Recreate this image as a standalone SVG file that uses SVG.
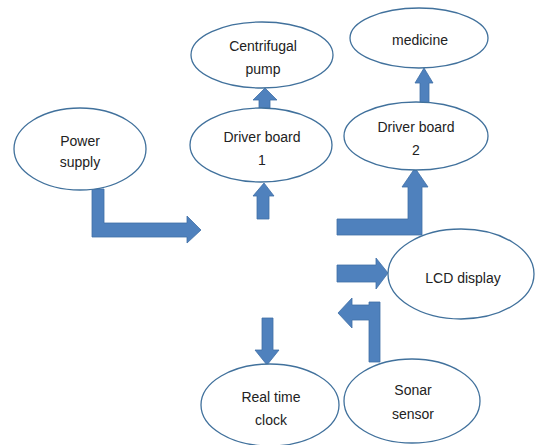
<svg xmlns="http://www.w3.org/2000/svg" width="536" height="445" viewBox="0 0 536 445">
<style>
.node ellipse{fill:#fff;stroke:#41719c;stroke-width:1.3}
.node text{font-family:"Liberation Sans",Arial,sans-serif;font-size:14px;fill:#222;text-anchor:middle}
.arr{fill:#4f81bd;stroke:#3f6ea6;stroke-width:0.8}
</style>
<rect width="536" height="445" fill="#fff"/>
<g id="connectors">
<path class="arr" d="M92,189 L104,189 L104,223 L187,223 L187,216 L201,230 L187,243 L187,237 L92,237 Z"/>
<path class="arr" d="M259,108 L259,100 L253,100 L265,88 L277,100 L270,100 L270,108 Z"/>
<path class="arr" d="M257,219 L257,196 L253,196 L264,183 L274,196 L269,196 L269,219 Z"/>
<path class="arr" d="M420,103 L420,83 L415,83 L424,68 L433,83 L429,83 L429,103 Z"/>
<path class="arr" d="M337,219 L408,219 L408,187 L402,187 L415,168 L428,187 L422,187 L422,235 L337,235 Z"/>
<path class="arr" d="M337,265 L376,265 L376,258 L388,273 L376,289 L376,282 L337,282 Z"/>
<path class="arr" d="M369,302 L380,302 L380,362 L369,362 L369,320 L352,320 L352,328 L338,313 L352,298 L352,305 L369,305 Z"/>
<path class="arr" d="M262,318 L273,318 L273,350 L279,350 L267,365 L255,350 L262,350 Z"/>
</g>
<g id="power-supply" class="node">
<ellipse cx="80" cy="149" rx="66" ry="41"/>
<text x="80" y="146">Power</text>
<text x="80" y="167">supply</text>
</g>
<g id="centrifugal-pump" class="node">
<ellipse cx="262" cy="55" rx="71" ry="33"/>
<text x="263" y="51">Centrifugal</text>
<text x="263" y="74">pump</text>
</g>
<g id="driver-board-1" class="node">
<ellipse cx="261" cy="145" rx="71" ry="37"/>
<text x="262" y="142">Driver board</text>
<text x="262" y="165">1</text>
</g>
<g id="medicine" class="node">
<ellipse cx="419" cy="38" rx="69" ry="30"/>
<text x="420" y="45">medicine</text>
</g>
<g id="driver-board-2" class="node">
<ellipse cx="416" cy="136" rx="72" ry="34"/>
<text x="416" y="132">Driver board</text>
<text x="416" y="155">2</text>
</g>
<g id="lcd-display" class="node">
<ellipse cx="461" cy="274" rx="73" ry="45"/>
<text x="463" y="283">LCD display</text>
</g>
<g id="real-time-clock" class="node">
<ellipse cx="270" cy="405" rx="69" ry="41"/>
<text x="271" y="402">Real time</text>
<text x="271" y="425">clock</text>
</g>
<g id="sonar-sensor" class="node">
<ellipse cx="412" cy="401" rx="68" ry="42"/>
<text x="413" y="395">Sonar</text>
<text x="413" y="419">sensor</text>
</g>
</svg>
